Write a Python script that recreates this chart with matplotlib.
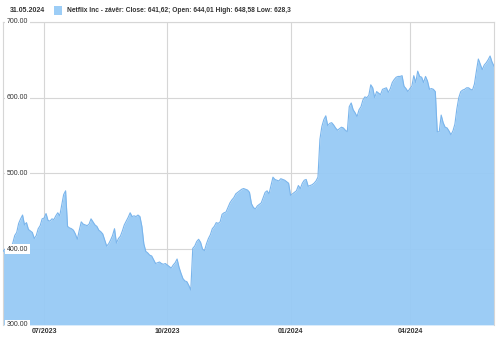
import numpy as np
import matplotlib
matplotlib.use('Agg')
from matplotlib import pyplot as plt
from matplotlib.patches import Rectangle

plt.rcParams['font.family'] = ['Liberation Sans', 'DejaVu Sans']

# daily closes, 01.06.2023 - 31.05.2024 (trading days)
jun23 = [397, 400, 402, 399, 401, 408, 418, 422, 434, 440, 445, 432, 435, 426, 424, 422, 414, 418, 427, 431, 440]
jul23 = [441, 447, 438, 437, 440, 439, 444, 448, 444, 458, 472, 477, 430, 428, 427, 425, 420, 413, 425, 436]
aug23 = [433, 432, 431, 433, 440, 436, 432, 430, 425, 423, 420, 412, 404, 407, 412, 418, 427, 408, 414, 417, 424, 432, 437]
sep23 = [442, 448, 443, 444, 443, 445, 443, 430, 407, 397, 395, 392, 391, 386, 381, 382, 383, 381, 380, 381]
oct23 = [379, 377, 375, 379, 382, 387, 376, 368, 361, 358, 357, 352, 346, 401, 404, 410, 413, 409, 400, 398, 407, 414]
nov23 = [419, 427, 430, 435, 434, 436, 446, 448, 449, 455, 461, 465, 468, 473, 475, 477, 479, 480, 479, 478, 475]
dec23 = [460, 455, 453, 457, 459, 461, 468, 475, 477, 473, 484, 495, 492, 491, 490, 493, 492, 491, 489, 487]
jan24 = [471, 473, 475, 477, 484, 480, 487, 491, 492, 483, 484, 485, 487, 490, 495, 545, 562, 571, 576, 563, 566]
feb24 = [567, 564, 560, 557, 559, 561, 560, 557, 555, 588, 593, 584, 580, 575, 584, 588, 597, 601, 600, 603]
mar24 = [617, 613, 600, 608, 606, 604, 611, 612, 613, 607, 612, 620, 624, 627, 628, 628, 629, 615, 612, 608]
apr24 = [612, 615, 629, 620, 635, 628, 627, 620, 628, 622, 611, 612, 611, 608, 555, 555, 577, 567, 561, 560, 556, 551]
may24 = [556, 565, 585, 600, 608, 610, 611, 613, 613, 611, 610, 618, 635, 651, 644, 637, 643, 646, 650, 655, 647, 641.62]

close = np.array(jun23 + jul23 + aug23 + sep23 + oct23 + nov23 + dec23 + jan24 + feb24 + mar24 + apr24 + may24)
x = np.arange(len(close))

tick_pos = [len(jun23),
            len(jun23 + jul23 + aug23 + sep23),
            len(jun23 + jul23 + aug23 + sep23 + oct23 + nov23 + dec23),
            len(jun23 + jul23 + aug23 + sep23 + oct23 + nov23 + dec23 + jan24 + feb24 + mar24)]
tick_labels = ['07/2023', '10/2023', '01/2024', '04/2024']
y_levels = [300, 400, 500, 600, 700]

fig = plt.figure(figsize=(5, 3.37), dpi=100)
ax = fig.add_axes([0.006, 0.036, 0.982, 0.899])

ax.fill_between(x, 300, close, color='#97caf5', alpha=0.95, lw=0, zorder=2)
ax.plot(x, close, color='#7ab5ec', lw=0.8, zorder=3)

ax.set_xlim(0, len(close) - 1)
ax.set_ylim(300, 700)
ax.set_yticks(y_levels)
ax.set_yticklabels([])
ax.set_xticks(tick_pos)
ax.set_xticklabels(tick_labels, fontsize=5.0, fontweight='bold', color='#333333')
ax.tick_params(length=0, pad=2)
ax.grid(True, color='#d6d6d6', lw=0.8, zorder=0)
for s in ['left', 'right', 'top']:
    ax.spines[s].set_color('#d6d6d6')
    ax.spines[s].set_linewidth(0.8)
ax.spines['bottom'].set_visible(False)

for v in y_levels:
    ax.text(2.0, v, '%.2f' % v, fontsize=5.0, color='#333333', va='center', ha='left', zorder=5,
            bbox=dict(facecolor='white', edgecolor='none', pad=1.2))

fig.text(10 / 500, 1 - 11 / 337, '31.05.2024', fontsize=5.0, fontweight='bold', color='#333333', va='center')
fig.patches.append(Rectangle((54 / 500, 1 - 14.5 / 337), 7.5 / 500, 8 / 337, transform=fig.transFigure,
                             facecolor='#9ccdf6', edgecolor='none'))
fig.text(67 / 500, 1 - 11 / 337, 'Netflix Inc - závěr: Close: 641,62; Open: 644,01 High: 648,58 Low: 628,3',
         fontsize=4.8, fontweight='bold', color='#333333', va='center')

fig.savefig('out.png', dpi=100)
